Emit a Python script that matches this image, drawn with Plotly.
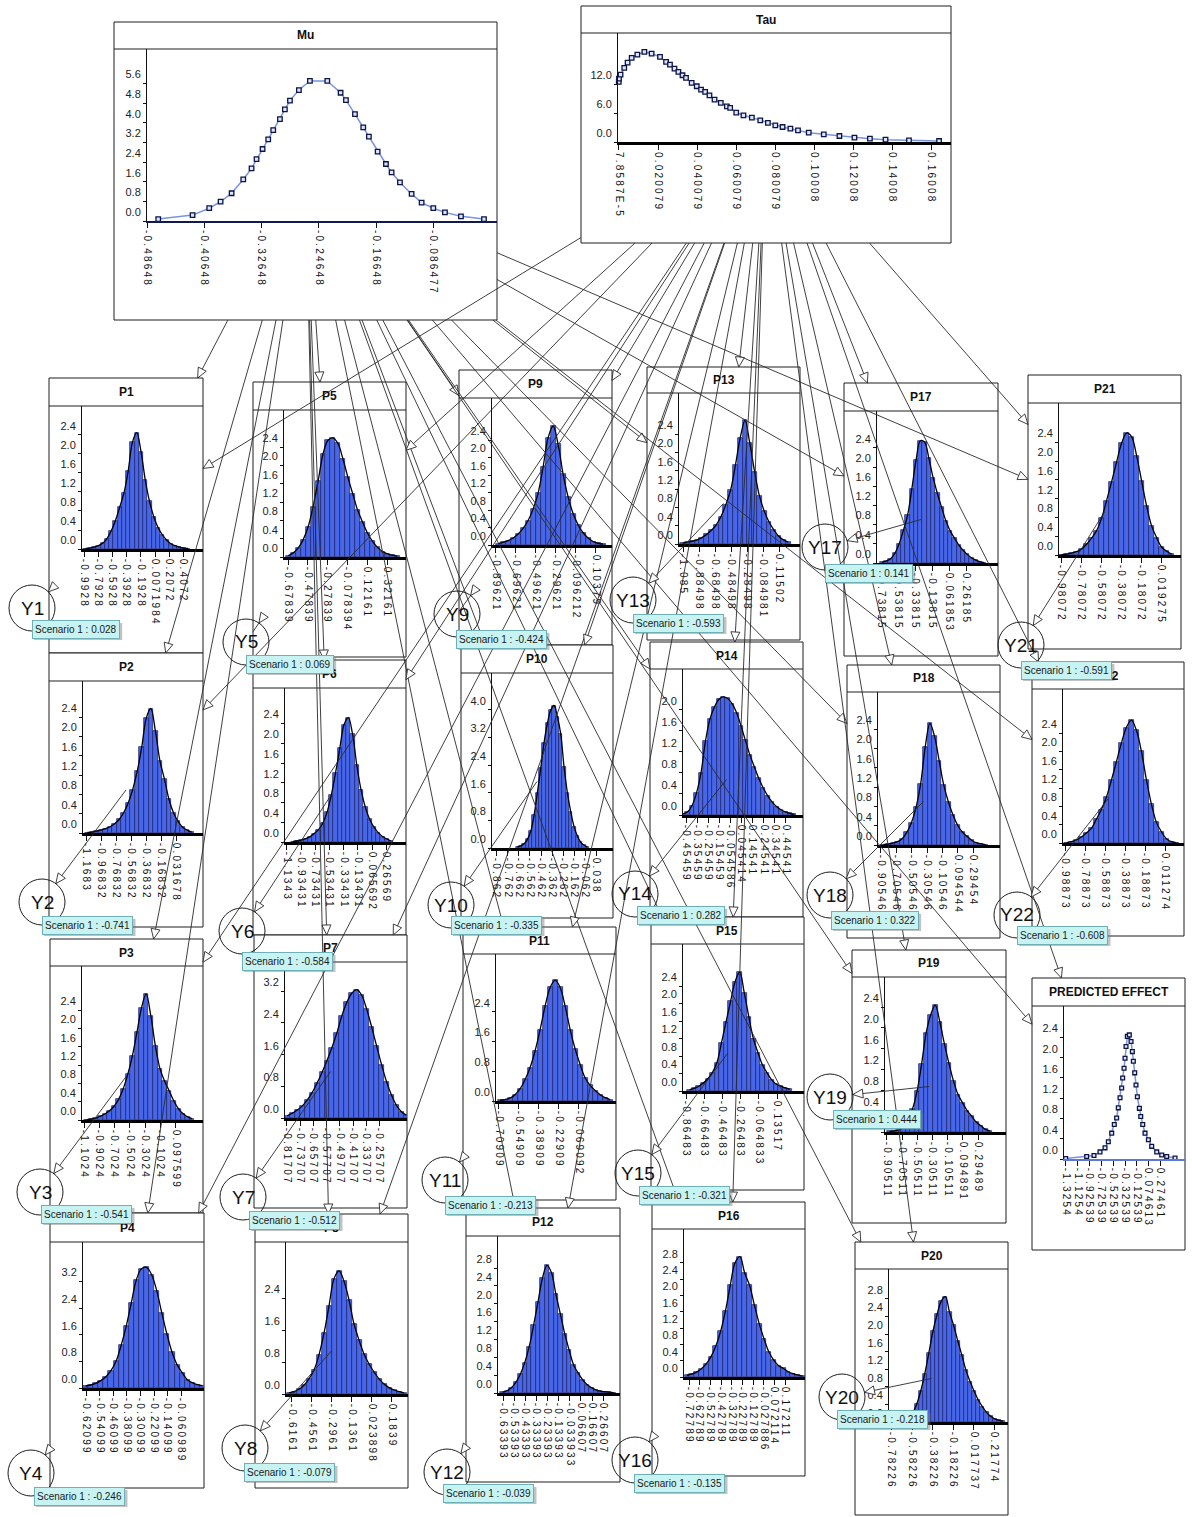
import plotly.graph_objects as go

W, H = 1192, 1517

# ---------------- Mu : posterior of the pooled mean ----------------
MU_X = [-0.4711, -0.4231, -0.3998, -0.3839, -0.3685, -0.3522, -0.3406, -0.3336, -0.3252, -0.3173,
        -0.3103, -0.3009, -0.2940, -0.2869, -0.2744, -0.2590, -0.2347, -0.2161, -0.2086, -0.1960,
        -0.1844, -0.1765, -0.1643, -0.1527, -0.1448, -0.1331, -0.1168, -0.1028, -0.0865, -0.0702,
        -0.0478, -0.0156]
MU_Y = [0.08, 0.24, 0.52, 0.79, 1.13, 1.69, 2.14, 2.52, 2.93, 3.32, 3.70, 4.15, 4.54, 4.90, 5.33,
        5.70, 5.70, 5.22, 4.92, 4.35, 3.81, 3.43, 2.82, 2.32, 1.98, 1.57, 1.10, 0.75, 0.52, 0.35,
        0.19, 0.08]
MU_XTICKS = ["-0.48648", "-0.40648", "-0.32648", "-0.24648", "-0.16648", "-0.086477"]
MU_YTICKS = [0.0, 0.8, 1.6, 2.4, 3.2, 4.0, 4.8, 5.6]

# ---------------- Tau : posterior of the between-study spread ----------------
TAU_X = [0.0000, 0.0001, 0.0009, 0.0028, 0.0045, 0.0066, 0.0095, 0.0131, 0.0168, 0.0211, 0.0242,
         0.0262, 0.0285, 0.0305, 0.0326, 0.0344, 0.0373, 0.0399, 0.0421, 0.0442, 0.0464, 0.0490,
         0.0522, 0.0553, 0.0570, 0.0601, 0.0638, 0.0681, 0.0724, 0.0763, 0.0801, 0.0838, 0.0878,
         0.0917, 0.0972, 0.1049, 0.1129, 0.1206, 0.1285, 0.1365, 0.1485, 0.1639]
TAU_Y = [12.56, 13.26, 14.10, 15.50, 16.61, 17.59, 18.29, 18.84, 18.50, 17.80, 16.75, 16.19, 15.36,
         14.66, 13.96, 13.40, 12.35, 11.66, 10.96, 10.47, 9.77, 8.86, 8.17, 7.47, 7.12, 6.14, 5.58,
         5.10, 4.54, 3.98, 3.49, 3.14, 2.79, 2.44, 1.95, 1.61, 1.26, 0.91, 0.70, 0.49, 0.35, 0.21]
TAU_XTICKS = ["7.8587E-5", "0.020079", "0.040079", "0.060079", "0.080079", "0.10008", "0.12008",
              "0.14008", "0.16008"]
TAU_YTICKS = [0.0, 6.0, 12.0]

# ---------------- predicted effect in a new study ----------------
PRED_X = [-1.331, -0.975, -0.851, -0.749, -0.664, -0.608, -0.551, -0.507, -0.467, -0.439, -0.410,
          -0.382, -0.365, -0.342, -0.325, -0.308, -0.286, -0.252, -0.223, -0.201, -0.184, -0.161,
          -0.139, -0.116, -0.082, -0.059, -0.025, 0.014, 0.071, 0.127, 0.212, 0.297, 0.381, 0.522]
PRED_Y = [0.01, 0.05, 0.07, 0.14, 0.22, 0.34, 0.51, 0.68, 0.81, 1.01, 1.21, 1.40, 1.60, 1.79, 1.99,
          2.22, 2.42, 2.45, 2.32, 2.12, 1.93, 1.70, 1.46, 1.23, 1.00, 0.84, 0.68, 0.51, 0.38, 0.25,
          0.14, 0.08, 0.05, 0.02]
PRED_XTICKS = ["-1.3254", "-1.1254", "-0.92539", "-0.72539", "-0.52539", "-0.32539", "-0.12539",
               "0.074613", "0.27461"]

Y_024 = [0.0, 0.4, 0.8, 1.2, 1.6, 2.0, 2.4]
Y_028 = [0.0, 0.4, 0.8, 1.2, 1.6, 2.0, 2.4, 2.8]
Y_020 = [0.0, 0.4, 0.8, 1.2, 1.6, 2.0]
Y_08_24 = [0.0, 0.8, 1.6, 2.4]
Y_08_32 = [0.0, 0.8, 1.6, 2.4, 3.2]
Y_08_40 = [0.0, 0.8, 1.6, 2.4, 3.2, 4.0]

# ---------------- study effects P1..P22 : histogram (first bin edge, bin width, density) -------
P1_LO, P1_BIN = -1.00, 0.06
P1_DENS = [0.01, 0.02, 0.04, 0.07, 0.12, 0.22, 0.38, 0.60, 0.88, 1.18, 1.65, 2.25, 2.45, 2.05, 1.45,
           1.00, 0.68, 0.45, 0.30, 0.19, 0.11, 0.07, 0.04, 0.02, 0.01]
P1_XTICKS = ["-0.9928", "-0.7928", "-0.5928", "-0.3928", "-0.1928", "0.0071984", "0.2072", "0.4072"]

P2_LO, P2_BIN = -1.18, 0.06
P2_DENS = [0.01, 0.02, 0.04, 0.06, 0.09, 0.13, 0.19, 0.28, 0.42, 0.62, 0.90, 1.28, 1.78, 2.38, 2.58,
           2.12, 1.50, 1.12, 0.70, 0.42, 0.24, 0.12, 0.06, 0.02]
P2_XTICKS = ["-1.1683", "-0.96832", "-0.76832", "-0.56832", "-0.36832", "-0.16832", "0.031678"]

P3_LO, P3_BIN = -1.10, 0.06
P3_DENS = [0.01, 0.02, 0.04, 0.08, 0.13, 0.20, 0.30, 0.45, 0.68, 1.00, 1.40, 1.92, 2.45, 2.75, 2.28,
           1.62, 1.12, 0.85, 0.64, 0.42, 0.25, 0.14, 0.07, 0.03]
P3_XTICKS = ["-1.1024", "-0.9024", "-0.7024", "-0.5024", "-0.3024", "-0.1024", "0.097599"]

P4_LO, P4_BIN = -0.64, 0.03
P4_DENS = [0.06, 0.09, 0.14, 0.22, 0.34, 0.52, 0.80, 1.28, 1.85, 2.55, 3.25, 3.58, 3.62, 3.40, 2.92,
           2.25, 1.62, 1.08, 0.70, 0.46, 0.25, 0.16, 0.10, 0.07]
P4_XTICKS = ["-0.62099", "-0.54099", "-0.46099", "-0.38099", "-0.30099", "-0.22099", "-0.14099",
             "-0.060989"]

P5_LO, P5_BIN = -0.70, 0.05
P5_DENS = [0.03, 0.09, 0.20, 0.38, 0.66, 1.10, 1.65, 2.25, 2.55, 2.60, 2.48, 2.15, 1.75, 1.38, 1.02,
           0.76, 0.52, 0.34, 0.21, 0.12, 0.07, 0.04, 0.02]
P5_XTICKS = ["-0.67839", "-0.47839", "-0.27839", "-0.078394", "0.12161", "0.32161"]

P6_LO, P6_BIN = -1.08, 0.06
P6_DENS = [0.01, 0.02, 0.04, 0.07, 0.11, 0.17, 0.25, 0.38, 0.60, 0.95, 1.40, 1.90, 2.38, 2.52, 2.18,
           1.55, 1.05, 0.70, 0.46, 0.30, 0.19, 0.11, 0.06, 0.02]
P6_XTICKS = ["-1.1343", "-0.93431", "-0.73431", "-0.53431", "-0.33431", "-0.13431", "0.065692",
             "0.26569"]

P7_LO, P7_BIN = -0.83, 0.03
P7_DENS = [0.06, 0.12, 0.20, 0.30, 0.45, 0.64, 0.88, 1.15, 1.45, 1.78, 2.15, 2.58, 2.92, 3.15, 3.24,
           3.10, 2.75, 2.30, 1.82, 1.35, 0.92, 0.58, 0.32, 0.16, 0.07]
P7_XTICKS = ["-0.81707", "-0.73707", "-0.65707", "-0.57707", "-0.49707", "-0.41707", "-0.33707",
             "-0.25707"]

P8_LO, P8_BIN = -0.66, 0.04
P8_DENS = [0.03, 0.06, 0.12, 0.22, 0.38, 0.60, 0.98, 1.52, 2.20, 2.88, 3.08, 2.82, 2.35, 1.75, 1.35,
           1.00, 0.75, 0.55, 0.38, 0.25, 0.16, 0.10, 0.06, 0.03]
P8_XTICKS = ["-0.6161", "-0.4561", "-0.2961", "-0.1361", "0.023898", "0.1839"]

P9_LO, P9_BIN = -0.90, 0.05
P9_DENS = [0.03, 0.06, 0.10, 0.16, 0.25, 0.38, 0.56, 0.82, 1.18, 1.78, 2.45, 2.72, 2.30, 1.62, 1.10,
           0.72, 0.46, 0.28, 0.16, 0.08, 0.04, 0.02]
P9_XTICKS = ["-0.89621", "-0.69621", "-0.49621", "-0.29621", "-0.096212", "0.10379"]

P10_LO, P10_BIN = -0.69, 0.03
P10_DENS = [0.03, 0.06, 0.12, 0.25, 0.48, 0.95, 1.60, 2.30, 3.05, 3.60, 3.98, 4.12, 3.80, 3.30, 2.35,
            1.60, 1.05, 0.62, 0.35, 0.17, 0.08, 0.03]
P10_XTICKS = ["-0.862", "-0.762", "-0.662", "-0.562", "-0.462", "-0.362", "-0.262", "-0.162",
              "-0.062", "0.038"]

P11_LO, P11_BIN = -0.72, 0.04
P11_DENS = [0.02, 0.04, 0.08, 0.17, 0.33, 0.58, 0.90, 1.35, 1.92, 2.55, 3.05, 3.25, 3.05, 2.55, 1.92,
            1.40, 0.98, 0.62, 0.42, 0.28, 0.17, 0.09, 0.04]
P11_XTICKS = ["-0.70909", "-0.54909", "-0.38909", "-0.22909", "-0.069092"]

P12_LO, P12_BIN = -0.66, 0.04
P12_DENS = [0.02, 0.05, 0.12, 0.24, 0.42, 0.68, 1.04, 1.52, 2.05, 2.58, 2.86, 2.70, 2.22, 1.78, 1.33,
            0.96, 0.63, 0.45, 0.30, 0.19, 0.12, 0.07, 0.04, 0.03, 0.02, 0.01]
P12_XTICKS = ["-0.63393", "-0.53393", "-0.43393", "-0.33393", "-0.23393", "-0.13393", "-0.033933",
              "0.06607", "0.16607", "0.26607"]

P13_LO, P13_BIN = -1.12, 0.06
P13_DENS = [0.02, 0.04, 0.06, 0.09, 0.14, 0.21, 0.30, 0.42, 0.60, 0.86, 1.18, 1.72, 2.32, 2.70, 2.20,
            1.58, 1.05, 0.72, 0.48, 0.31, 0.17, 0.09, 0.04]
P13_XTICKS = ["-1.085", "-0.88498", "-0.68498", "-0.48498", "-0.28498", "-0.084981", "0.11502"]

P14_LO, P14_BIN = -0.50, 0.04
P14_DENS = [0.02, 0.06, 0.18, 0.42, 0.80, 1.40, 1.82, 2.05, 2.20, 2.25, 2.22, 2.12, 1.95, 1.70, 1.42,
            1.15, 0.92, 0.70, 0.52, 0.37, 0.25, 0.16, 0.10, 0.06, 0.03, 0.01]
P14_XTICKS = ["-0.45459", "-0.35459", "-0.25459", "-0.15459", "-0.054586", "0.045414", "0.14541",
              "0.24541", "0.34541", "0.44541"]

P15_LO, P15_BIN = -0.85, 0.05
P15_DENS = [0.03, 0.06, 0.11, 0.18, 0.28, 0.42, 0.65, 1.10, 1.58, 2.05, 2.50, 2.72, 2.25, 1.70, 1.20,
            0.88, 0.60, 0.42, 0.26, 0.16, 0.11, 0.07, 0.04]
P15_XTICKS = ["-0.86483", "-0.66483", "-0.46483", "-0.26483", "-0.064833", "0.13517"]

P16_LO, P16_BIN = -0.77, 0.045
P16_DENS = [0.04, 0.07, 0.12, 0.20, 0.32, 0.50, 0.76, 1.12, 1.62, 2.25, 2.80, 2.95, 2.55, 2.25, 1.77,
            1.31, 0.94, 0.62, 0.42, 0.28, 0.21, 0.13, 0.08, 0.05, 0.02]
P16_XTICKS = ["-0.72789", "-0.62789", "-0.52789", "-0.42789", "-0.32789", "-0.22789", "-0.12789",
              "-0.027886", "0.072114", "0.17211"]

P17_LO, P17_BIN = -0.75, 0.05
P17_DENS = [0.02, 0.04, 0.09, 0.20, 0.40, 0.68, 1.00, 1.55, 2.15, 2.55, 2.52, 2.18, 1.78, 1.45, 1.16,
            0.88, 0.67, 0.52, 0.38, 0.27, 0.18, 0.11, 0.06, 0.03, 0.01]
P17_XTICKS = ["-0.73815", "-0.53815", "-0.33815", "-0.13815", "0.061853", "0.26185"]

P18_LO, P18_BIN = -0.90, 0.06
P18_DENS = [0.01, 0.02, 0.04, 0.07, 0.13, 0.26, 0.46, 0.78, 1.27, 2.04, 2.52, 2.25, 1.75, 1.24, 0.89,
            0.62, 0.41, 0.27, 0.18, 0.10, 0.05, 0.03, 0.01]
P18_XTICKS = ["-0.90546", "-0.70546", "-0.50546", "-0.30546", "-0.10546", "0.094544", "0.29454"]

P19_LO, P19_BIN = -0.90, 0.06
P19_DENS = [0.01, 0.02, 0.04, 0.09, 0.24, 0.44, 0.78, 1.30, 1.90, 2.25, 2.44, 2.12, 1.70, 1.32, 0.98,
            0.72, 0.56, 0.41, 0.30, 0.19, 0.12, 0.05, 0.02]
P19_XTICKS = ["-0.90511", "-0.70511", "-0.50511", "-0.30511", "-0.10511", "0.094891", "0.29489"]

P20_LO, P20_BIN = -0.72, 0.04
P20_DENS = [0.02, 0.05, 0.10, 0.20, 0.40, 0.70, 1.10, 1.58, 2.07, 2.45, 2.75, 2.85, 2.50, 2.20, 1.85,
            1.52, 1.18, 0.92, 0.70, 0.50, 0.35, 0.22, 0.13, 0.07, 0.04, 0.02]
P20_XTICKS = ["-0.78226", "-0.58226", "-0.38226", "-0.18226", "0.017737", "0.21774"]

P21_LO, P21_BIN = -1.00, 0.05
P21_DENS = [0.01, 0.02, 0.04, 0.07, 0.13, 0.23, 0.36, 0.52, 0.78, 1.16, 1.56, 1.98, 2.38, 2.60, 2.52,
            2.12, 1.58, 1.05, 0.62, 0.37, 0.17, 0.08, 0.02]
P21_XTICKS = ["-0.98072", "-0.78072", "-0.58072", "-0.38072", "-0.18072", "0.019275"]

P22_LO, P22_BIN = -1.00, 0.05
P22_DENS = [0.01, 0.03, 0.07, 0.13, 0.22, 0.32, 0.52, 0.73, 1.00, 1.37, 1.77, 2.18, 2.52, 2.68, 2.46,
            2.00, 1.38, 0.85, 0.45, 0.25, 0.09, 0.03, 0.01]
P22_XTICKS = ["-0.98873", "-0.78873", "-0.58873", "-0.38873", "-0.18873", "0.011274"]

# observed outcome of each study (Scenario 1)
Y_OBS = [0.028, -0.741, -0.541, -0.246, 0.069, -0.584, -0.512, -0.079, -0.424, -0.335, -0.213,
         -0.039, -0.593, 0.282, -0.321, -0.135, 0.141, 0.322, 0.444, -0.218, -0.591, -0.608]

HIST = {
    "P1": (P1_LO, P1_BIN, P1_DENS, P1_XTICKS, Y_024),
    "P2": (P2_LO, P2_BIN, P2_DENS, P2_XTICKS, Y_024),
    "P3": (P3_LO, P3_BIN, P3_DENS, P3_XTICKS, Y_024),
    "P4": (P4_LO, P4_BIN, P4_DENS, P4_XTICKS, Y_08_32),
    "P5": (P5_LO, P5_BIN, P5_DENS, P5_XTICKS, Y_024),
    "P6": (P6_LO, P6_BIN, P6_DENS, P6_XTICKS, Y_024),
    "P7": (P7_LO, P7_BIN, P7_DENS, P7_XTICKS, Y_08_32),
    "P8": (P8_LO, P8_BIN, P8_DENS, P8_XTICKS, Y_08_24),
    "P9": (P9_LO, P9_BIN, P9_DENS, P9_XTICKS, Y_024),
    "P10": (P10_LO, P10_BIN, P10_DENS, P10_XTICKS, Y_08_40),
    "P11": (P11_LO, P11_BIN, P11_DENS, P11_XTICKS, Y_08_24),
    "P12": (P12_LO, P12_BIN, P12_DENS, P12_XTICKS, Y_028),
    "P13": (P13_LO, P13_BIN, P13_DENS, P13_XTICKS, Y_024),
    "P14": (P14_LO, P14_BIN, P14_DENS, P14_XTICKS, Y_020),
    "P15": (P15_LO, P15_BIN, P15_DENS, P15_XTICKS, Y_024),
    "P16": (P16_LO, P16_BIN, P16_DENS, P16_XTICKS, Y_028),
    "P17": (P17_LO, P17_BIN, P17_DENS, P17_XTICKS, Y_024),
    "P18": (P18_LO, P18_BIN, P18_DENS, P18_XTICKS, Y_024),
    "P19": (P19_LO, P19_BIN, P19_DENS, P19_XTICKS, Y_024),
    "P20": (P20_LO, P20_BIN, P20_DENS, P20_XTICKS, Y_028),
    "P21": (P21_LO, P21_BIN, P21_DENS, P21_XTICKS, Y_024),
    "P22": (P22_LO, P22_BIN, P22_DENS, P22_XTICKS, Y_024),
}

# ---------------- node placement on the canvas (pixels) ----------------
# box = (left, top, right, bottom); hb = header bottom; pl = plot left; bl = baseline
GEOM = {
    "Mu":   dict(box=(114, 22, 497, 320), hb=49, pl=147, bl=221, xr=(-0.4868, 0.0026), ytop=7.0),
    "Tau":  dict(box=(581, 6, 951, 243), hb=33, pl=618, bl=142, xr=(-0.0004, 0.170), ytop=22.8),
    "P1":   dict(box=(49, 378, 203, 653), hb=406, pl=82, bl=549, xr=(-1.021, 0.683), ytop=3.01),
    "P2":   dict(box=(49, 653, 203, 927), hb=681, pl=83, bl=833, xr=(-1.208, 0.381), ytop=3.15),
    "P3":   dict(box=(50, 939, 203, 1213), hb=966, pl=82, bl=1120, xr=(-1.129, 0.453), ytop=3.36),
    "P4":   dict(box=(50, 1213, 204, 1488), hb=1242, pl=83, bl=1388, xr=(-0.640, 0.074), ytop=4.38),
    "P5":   dict(box=(253, 382, 406, 657), hb=410, pl=284, bl=557, xr=(-0.719, 0.513), ytop=3.21),
    "P6":   dict(box=(253, 660, 406, 935), hb=688, pl=285, bl=842, xr=(-1.162, 0.542), ytop=3.12),
    "P7":   dict(box=(254, 935, 407, 1208), hb=962, pl=285, bl=1118, xr=(-0.829, -0.091), ytop=3.94),
    "P8":   dict(box=(255, 1214, 408, 1488), hb=1242, pl=286, bl=1394, xr=(-0.664, 0.312), ytop=3.8),
    "P9":   dict(box=(459, 370, 612, 645), hb=398, pl=492, bl=545, xr=(-0.936, 0.264), ytop=3.36),
    "P10":  dict(box=(461, 645, 613, 918), hb=673, pl=492, bl=848, xr=(-0.904, 0.186), ytop=5.06),
    "P11":  dict(box=(463, 927, 616, 1200), hb=954, pl=496, bl=1101, xr=(-0.733, 0.227), ytop=3.95),
    "P12":  dict(box=(466, 1208, 620, 1482), hb=1236, pl=498, bl=1393, xr=(-0.681, 0.418), ytop=3.52),
    "P13":  dict(box=(647, 367, 800, 640), hb=393, pl=679, bl=544, xr=(-1.135, 0.377), ytop=3.30),
    "P14":  dict(box=(650, 642, 803, 917), hb=669, pl=683, bl=815, xr=(-0.482, 0.599), ytop=2.78),
    "P15":  dict(box=(651, 917, 804, 1190), hb=944, pl=683, bl=1091, xr=(-0.898, 0.432), ytop=3.36),
    "P16":  dict(box=(652, 1202, 805, 1476), hb=1229, pl=684, bl=1377, xr=(-0.775, 0.356), ytop=3.63),
    "P17":  dict(box=(844, 383, 998, 656), hb=411, pl=877, bl=563, xr=(-0.785, 0.638), ytop=3.17),
    "P18":  dict(box=(847, 665, 1000, 938), hb=692, pl=878, bl=845, xr=(-0.944, 0.640), ytop=3.17),
    "P19":  dict(box=(852, 950, 1006, 1223), hb=977, pl=885, bl=1132, xr=(-0.931, 0.661), ytop=2.98),
    "P20":  dict(box=(855, 1242, 1008, 1515), hb=1269, pl=889, bl=1422, xr=(-0.808, 0.349), ytop=3.48),
    "P21":  dict(box=(1028, 375, 1181, 649), hb=403, pl=1059, bl=555, xr=(-1.0007, 0.219), ytop=3.24),
    "P22":  dict(box=(1032, 662, 1184, 936), hb=689, pl=1063, bl=843, xr=(-1.009, 0.201), ytop=3.36),
    "PRED": dict(box=(1032, 978, 1185, 1250), hb=1006, pl=1064, bl=1159, xr=(-1.359, 0.691), ytop=3.02),
}
TITLES = {"Mu": "Mu", "Tau": "Tau", "PRED": "PREDICTED EFFECT"}

# observed-outcome nodes: circle centre and "Scenario" tag (left, top)
Y_CENTER = [(32, 608), (42, 902), (40, 1192), (31, 1473), (246, 642), (242, 931), (243, 1197),
            (245, 1448), (457, 614), (451, 905), (445, 1180), (447, 1472), (633, 600), (635, 894),
            (638, 1173), (635, 1460), (825, 547), (830, 895), (830, 1097), (842, 1397),
            (1021, 645), (1017, 915)]
TAG_POS = [(32, 620), (42, 916), (41, 1205), (34, 1487), (246, 655), (242, 952), (249, 1211),
           (244, 1463), (456, 630), (451, 916), (445, 1196), (443, 1484), (633, 614), (637, 906),
           (639, 1186), (634, 1474), (825, 564), (831, 911), (833, 1110), (837, 1410),
           (1021, 661), (1017, 926)]
# links drawn underneath their parent box (only the stub outside it shows)
TUCKED_LINKS = {1, 4, 5, 9, 11, 12, 16}
R_NODE = 23

SANS = "Liberation Sans, Arial, sans-serif"
BAR_FILL = "#4866e8"
BAR_EDGE = "#18206a"
LINK = "#2a2a2a"
FRAME = "#1e1e1e"
TAG_SIZE = 10
# Arial-style advance widths (em) used to size the scenario tags
ADV = {"-": 0.333, ".": 0.278}


def fx(p):
    return p / W


def fy(p):
    return 1 - p / H


def spaced(s):
    return f'<span style="letter-spacing:2.2px">{s}</span>'


def tag_width(value_text):
    em = 5.614 + sum(ADV.get(c, 0.556) for c in value_text)
    return em * TAG_SIZE + 1


fig = go.Figure()
shapes, annots = [], []
n_axes = [0]


def add_axes(name, xticks, yticks, xline_color, xline_width):
    n_axes[0] += 1
    k = n_axes[0]
    sfx = "" if k == 1 else str(k)
    g = GEOM[name]
    l, t, r, b = g["box"]
    fig.update_layout(**{
        f"xaxis{sfx}": dict(
            domain=[fx(g["pl"]), fx(r)], range=list(g["xr"]), anchor=f"y{sfx}",
            showgrid=False, zeroline=False, showline=True, linecolor=xline_color,
            linewidth=xline_width, ticks="outside", ticklen=5, tickwidth=1, tickcolor="#111",
            tickmode="array", tickvals=[float(s) for s in xticks],
            ticktext=[spaced(s) for s in xticks], tickangle=90,
            tickfont=dict(family=SANS, size=10, color="#111"),
            fixedrange=True, automargin=False),
        f"yaxis{sfx}": dict(
            domain=[fy(g["bl"]), fy(g["hb"])], range=[0, g["ytop"]], anchor=f"x{sfx}",
            showgrid=False, zeroline=False, showline=True, linecolor="#111", linewidth=1,
            ticks="outside", ticklen=3, tickwidth=1, tickcolor="#111",
            tickmode="array", tickvals=yticks, ticktext=[f"{v:.1f}" for v in yticks],
            tickfont=dict(family=SANS, size=11, color="#222"), ticklabelshift=-9,
            fixedrange=True, automargin=False),
    })
    return f"x{sfx}", f"y{sfx}"


def add_frame(name):
    g = GEOM[name]
    l, t, r, b = g["box"]
    shapes.append(dict(type="rect", xref="paper", yref="paper", x0=fx(l), x1=fx(r), y0=fy(b),
                       y1=fy(t), line=dict(color=FRAME, width=1), fillcolor="white",
                       layer="below"))
    shapes.append(dict(type="line", xref="paper", yref="paper", x0=fx(l), x1=fx(r),
                       y0=fy(g["hb"]), y1=fy(g["hb"]), line=dict(color=FRAME, width=1),
                       layer="below"))
    annots.append(dict(x=fx((l + r) / 2), y=fy((t + g["hb"]) / 2), xref="paper", yref="paper",
                       text=TITLES.get(name, name), showarrow=False,
                       font=dict(family=SANS, size=12, color="#111", weight="bold"),
                       xanchor="center", yanchor="middle"))


def curve_node(name, xs, ys, xticks, yticks, xline_color, xline_width, msize):
    add_frame(name)
    xa, ya = add_axes(name, xticks, yticks, xline_color, xline_width)
    fig.add_trace(go.Scatter(
        x=xs, y=ys, xaxis=xa, yaxis=ya, mode="lines+markers",
        line=dict(color="#7893e4", width=1.5),
        marker=dict(symbol="square", size=msize, color="#dfe5ff",
                    line=dict(color="#0b1445", width=1.3)),
        showlegend=False, hoverinfo="skip", cliponaxis=False))


curve_node("Mu", MU_X, MU_Y, MU_XTICKS, MU_YTICKS, "#101a50", 2, 4.5)
curve_node("Tau", TAU_X, TAU_Y, TAU_XTICKS, TAU_YTICKS, "#000000", 3, 4.5)

for name, (lo, w, dens, xticks, yticks) in HIST.items():
    add_frame(name)
    xa, ya = add_axes(name, xticks, yticks, "#000000", 2.5)
    centers = [lo + w * (i + 0.5) for i in range(len(dens))]
    fig.add_trace(go.Bar(x=centers, y=dens, width=w, xaxis=xa, yaxis=ya,
                         marker=dict(color=BAR_FILL, line=dict(color=BAR_EDGE, width=0.7)),
                         showlegend=False, hoverinfo="skip"))
    fig.add_trace(go.Scatter(x=centers, y=dens, xaxis=xa, yaxis=ya, mode="lines",
                             line=dict(color="#000000", width=1.3, shape="spline"),
                             showlegend=False, hoverinfo="skip"))

curve_node("PRED", PRED_X, PRED_Y, PRED_XTICKS, Y_024, "#5b78d8", 1.5, 3.8)


# ---------------- links between nodes ----------------
def center(box):
    return (box[0] + box[2]) / 2, (box[1] + box[3]) / 2


def exit_rect(box, cx, cy, dx, dy):
    l, t, r, b = box
    ts = []
    if dx > 0:
        ts.append((r - cx) / dx)
    if dx < 0:
        ts.append((l - cx) / dx)
    if dy > 0:
        ts.append((b - cy) / dy)
    if dy < 0:
        ts.append((t - cy) / dy)
    s = min(ts)
    return cx + s * dx, cy + s * dy


def link(x0, y0, x1, y1, ux, uy):
    shapes.append(dict(type="line", xref="paper", yref="paper", x0=fx(x0), y0=fy(y0),
                       x1=fx(x1), y1=fy(y1), line=dict(color=LINK, width=0.9)))
    bx, by = x1 - 10 * ux, y1 - 10 * uy
    nx, ny = -uy, ux
    pts = [(x1, y1), (bx + 4.5 * nx, by + 4.5 * ny), (bx - 4.5 * nx, by - 4.5 * ny)]
    path = "M " + " L ".join(f"{fx(px):.6f},{fy(py):.6f}" for px, py in pts) + " Z"
    shapes.append(dict(type="path", xref="paper", yref="paper", path=path, fillcolor="white",
                       line=dict(color=LINK, width=0.9)))


targets = [f"P{i}" for i in range(1, 23)] + ["PRED"]
for src in ("Mu", "Tau"):
    sbox = GEOM[src]["box"]
    sx, sy = center(sbox)
    for tgt in targets:
        tbox = GEOM[tgt]["box"]
        tx, ty = center(tbox)
        dx, dy = tx - sx, ty - sy
        d = (dx * dx + dy * dy) ** 0.5
        x0, y0 = exit_rect(sbox, sx, sy, dx, dy)
        x1, y1 = exit_rect(tbox, tx, ty, -dx, -dy)
        link(x0, y0, x1, y1, dx / d, dy / d)

for i in range(22):
    k = i + 1
    pbox = GEOM[f"P{k}"]["box"]
    px, py = center(pbox)
    cx, cy = Y_CENTER[i]
    dx, dy = cx - px, cy - py
    d = (dx * dx + dy * dy) ** 0.5
    ux, uy = dx / d, dy / d
    ex, ey = cx - R_NODE * ux, cy - R_NODE * uy
    if k in TUCKED_LINKS:
        sx0, sy0 = exit_rect(pbox, px, py, dx, dy)
    else:
        sx0, sy0 = px, py
    link(sx0, sy0, ex, ey, ux, uy)

# ---------------- observed-outcome nodes and their scenario tags ----------------
for i in range(22):
    cx, cy = Y_CENTER[i]
    shapes.append(dict(type="circle", xref="paper", yref="paper", x0=fx(cx - R_NODE),
                       x1=fx(cx + R_NODE), y0=fy(cy + R_NODE), y1=fy(cy - R_NODE),
                       line=dict(color=FRAME, width=1)))
    annots.append(dict(x=fx(cx), y=fy(cy), xref="paper", yref="paper", text=f"Y{i + 1}",
                       showarrow=False, font=dict(family=SANS, size=19, color="#111"),
                       xanchor="center", yanchor="middle"))
    lx, ly = TAG_POS[i]
    value_text = f"{Y_OBS[i]:.3f}"
    tw = tag_width(value_text)
    shapes.append(dict(type="rect", xref="paper", yref="paper", x0=fx(lx + 2),
                       x1=fx(lx + tw + 8), y0=fy(ly + 20), y1=fy(ly + 3), line=dict(width=0),
                       fillcolor="rgba(120,120,120,0.45)"))
    annots.append(dict(x=fx(lx), y=fy(ly), xref="paper", yref="paper",
                       text=f"Scenario 1 : {value_text}", showarrow=False,
                       font=dict(family=SANS, size=TAG_SIZE, color="#1a1a1a"),
                       xanchor="left", yanchor="top", align="left", width=tw, height=13,
                       bgcolor="#c8f3f3", bordercolor="#6fb0b6", borderwidth=1, borderpad=2))

fig.update_layout(width=W, height=H, margin=dict(l=0, r=0, t=0, b=0),
                  paper_bgcolor="white", plot_bgcolor="rgba(0,0,0,0)",
                  showlegend=False, bargap=0, shapes=shapes, annotations=annots)

fig.write_html("out.html")
